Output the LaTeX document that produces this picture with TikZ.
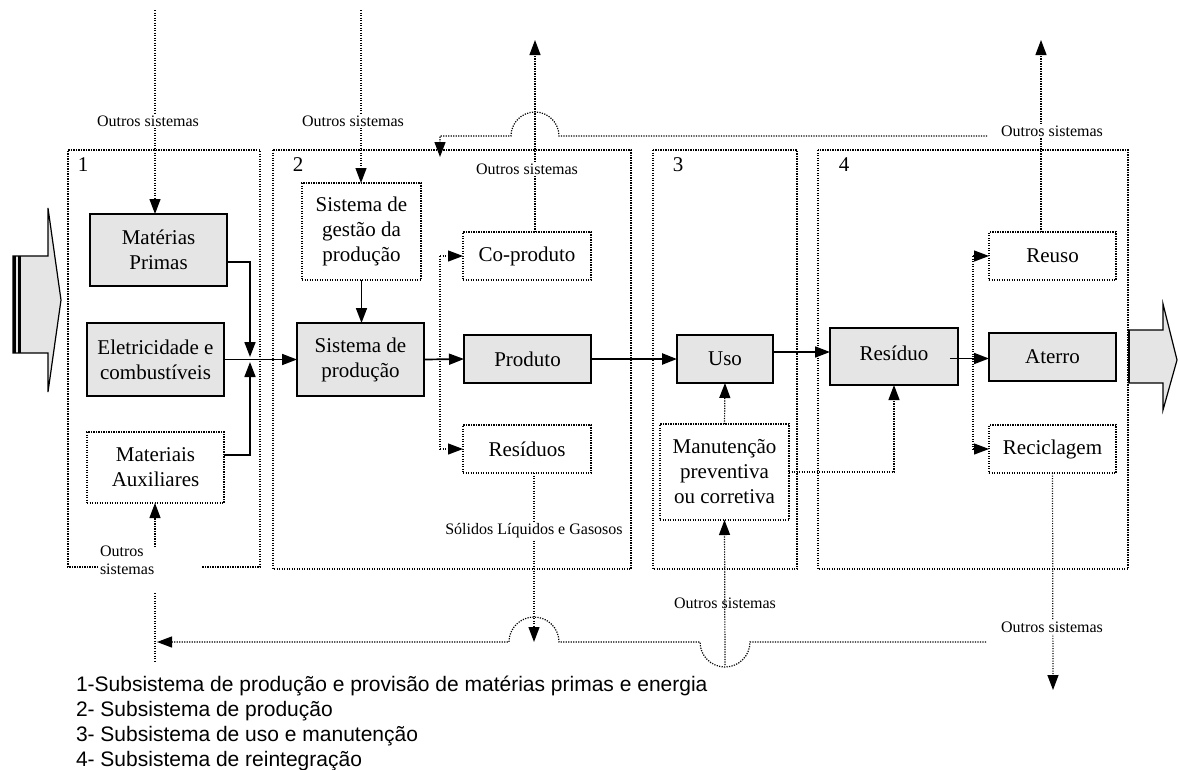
\documentclass[tikz,border=0pt]{standalone}
\usepackage{fontspec}
\setmainfont{Liberation Serif}
\newfontfamily\legendfont{Liberation Sans}
\usetikzlibrary{arrows.meta,calc}
\begin{document}
\begin{tikzpicture}[x=1pt,y=-1pt,
  every node/.style={inner sep=0pt, outer sep=0pt},
  solidbox/.style={draw=black, line width=1.8pt, fill=gray!20, align=center, font=\fontsize{21}{25}\selectfont},
  dotbox/.style={draw=black, line width=1.2pt, dash pattern=on 1.2pt off 1.3pt, fill=white, align=center, font=\fontsize{21}{25}\selectfont},
  frame/.style={draw=black, line width=1.2pt, dash pattern=on 1.2pt off 1.3pt},
  dline/.style={line width=1.2pt, dash pattern=on 1.2pt off 1.3pt},
  sline/.style={line width=1.7pt},
  tip/.style={-{Triangle[length=15pt,width=11pt]}},
  small/.style={font=\fontsize{16}{18}\selectfont, align=center},
  wlabel/.style={small, fill=white, inner sep=2pt},
  num/.style={font=\fontsize{21}{24}\selectfont},
]
\useasboundingbox (0,0) rectangle (1178,769);

% frames
\draw[frame] (98,567) -| (68,150) -| (260,567) -- (202,567);
\draw[frame] (273,150) rectangle (631,569);
\draw[frame] (653,150) rectangle (797,569);
\draw[frame] (818,150) rectangle (1128,569);
\node[num] (n1) at (83,165) {1};
\node[num] (n2) at (298,165) {2};
\node[num] (n3) at (678,165) {3};
\node[num] (n4) at (844,165) {4};

% big arrows
\draw[fill=gray!20, line width=1.2pt] (13,256) -- (48,256) -- (48,208) -- (61,300) -- (48,392) -- (48,353) -- (13,353) -- cycle;
\draw[line width=3pt] (14.5,256) -- (14.5,353);
\draw[line width=2.5pt] (19.5,256) -- (19.5,353);
\draw[fill=gray!20, line width=1.2pt] (1129,330) -- (1163,330) -- (1163,304) -- (1177,360) -- (1163,410) -- (1163,383) -- (1129,383) -- cycle;
\draw[line width=2pt] (1129,330) -- (1129,383);

% boxes
\node[solidbox, minimum width=137pt, minimum height=72pt] (mp) at (158.5,250) {Matérias\\Primas};
\node[solidbox, minimum width=137pt, minimum height=73pt] (el) at (155.5,359.5) {Eletricidade e\\combustíveis};
\node[dotbox, minimum width=137pt, minimum height=71pt] (ma) at (155.5,467.5) {Materiais\\Auxiliares};
\node[dotbox, minimum width=119pt, minimum height=97pt] (sg) at (361.5,231.5) {Sistema de\\gestão da\\produção};
\node[solidbox, minimum width=127pt, minimum height=73pt] (sp) at (360.5,359.5) {Sistema de\\produção};
\node[solidbox, minimum width=127pt, minimum height=48pt] (pr) at (527.5,359) {Produto};
\node[dotbox, minimum width=128pt, minimum height=48pt] (cp) at (527,256) {Co-produto};
\node[dotbox, minimum width=128pt, minimum height=48pt] (rs) at (527,449) {Resíduos};
\node[solidbox, minimum width=96pt, minimum height=48pt] (uso) at (725,359) {Uso};
\node[dotbox, minimum width=129pt, minimum height=96pt] (man) at (724.5,472) {Manutenção\\preventiva\\ou corretiva};
\node[solidbox, minimum width=128pt, minimum height=57pt] (res) at (894,356.5) {\raisebox{6pt}{Resíduo}};
\node[solidbox, minimum width=127pt, minimum height=48pt] (at) at (1052.5,357) {Aterro};
\node[dotbox, minimum width=127pt, minimum height=48pt] (reu) at (1052.5,256) {Reuso};
\node[dotbox, minimum width=127pt, minimum height=48pt] (rec) at (1052.5,449) {Reciclagem};

% coordinates
\coordinate (tl1) at (155,10);
\coordinate (tl2) at (361,10);
\coordinate (jn) at (250,359);
\coordinate (b2t) at (440,256);
\coordinate (b2b) at (440,449);
\coordinate (cpup) at (535,40);
\coordinate (rt1) at (987,136);
\coordinate (rt2) at (440,157);
\coordinate (reuup) at (1041,40);
\coordinate (b4t) at (973,256);
\coordinate (b4b) at (973,449);
\coordinate (recdn) at (1053,690);
\coordinate (rsdn) at (534,642);
\coordinate (br1) at (986,642);
\coordinate (br2) at (157,642);
\coordinate (bar1) at (155,593);
\coordinate (bar2) at (155,662);
\coordinate (mo) at (725,665);
\coordinate (mao) at (155,547);
\coordinate (ur) at ([yshift=7pt]uso.east);
\coordinate (ra) at ([xshift=-8pt,yshift=-2pt]res.east);

% connectors
\draw[dline,tip] (tl1) -- (tl1 |- mp.north);
\node[wlabel] (ol1) at (148,121) {Outros sistemas};
\draw[dline,tip] (tl2) -- (tl2 |- sg.north);
\node[wlabel] (ol2) at (353,121) {Outros sistemas};

\draw[sline,tip] ([yshift=-12pt]mp.east) -| ([yshift=2pt]jn);
\draw[sline,tip] ([yshift=12.5pt]ma.east) -| ([yshift=-3pt]jn);
\draw[sline,tip] (el.east) -- (sp.west);
\draw[sline,tip] (sg.south) -- (sg.south |- sp.north);
\draw[sline,tip] (sp.east) -- (pr.west);

\draw[dline] (b2t) -- (b2b);
\draw[dline,tip] (b2t) -- (cp.west);
\draw[dline,tip] (b2b) -- (rs.west);

\draw[dline,tip] ([xshift=8pt]cp.north) -- (cpup);
\node[wlabel] (ol3) at (527,169) {Outros sistemas};

\draw[dline,tip] (rt1) -- (559,136) arc[start angle=0,end angle=180,radius=24pt] -- (440,136) -- (rt2);

\draw[dline,tip] ([xshift=-11.5pt]reu.north) -- (reuup);
\node[wlabel] (ol4) at (1052,131) {Outros sistemas};

\draw[line width=2.4pt,tip] (pr.east) -- (uso.west);
\draw[dline,tip] (man.north) -- (uso.south);
\draw[sline,tip] (ur) -- (ur -| res.west);
\draw[dline,tip] (man.east) -| (res.south);
\draw[sline,tip] (ra) -- (ra -| at.west);

\draw[dline] (b4t) -- (b4b);
\draw[dline,tip] (b4t) -- (reu.west);
\draw[dline,tip] (b4b) -- (rec.west);

\draw[dline,tip] (rec.south) -- (recdn);
\node[wlabel] (ol5) at (1052,627) {Outros sistemas};

\draw[dline,tip] ([xshift=7pt]rs.south) -- (rsdn);
\node[wlabel] (sl) at (534,531) {Sólidos Líquidos e Gasosos};

\draw[dline,tip] (br1) -- (750,642) arc[start angle=0,end angle=-180,radius=25pt] -- (559,642) arc[start angle=0,end angle=180,radius=25pt] -- (br2);
\draw[dline] (bar1) -- (bar2);

\draw[dline,tip] (mo) -- (man.south);
\node[small] (ol6) at (725,603) {Outros sistemas};

\draw[dline,tip] (mao) -- (mao |- ma.south);
\node[small, anchor=north west, align=left] (ol7) at (100,546) {Outros\\sistemas};

% legend
\node[anchor=north west, align=left, font=\legendfont\fontsize{21}{25}\selectfont] (leg) at (76,676)
 {1-Subsistema de produção e provisão de matérias primas e energia\\
  2- Subsistema de produção\\
  3- Subsistema de uso e manutenção\\
  4- Subsistema de reintegração};
\end{tikzpicture}
\end{document}
